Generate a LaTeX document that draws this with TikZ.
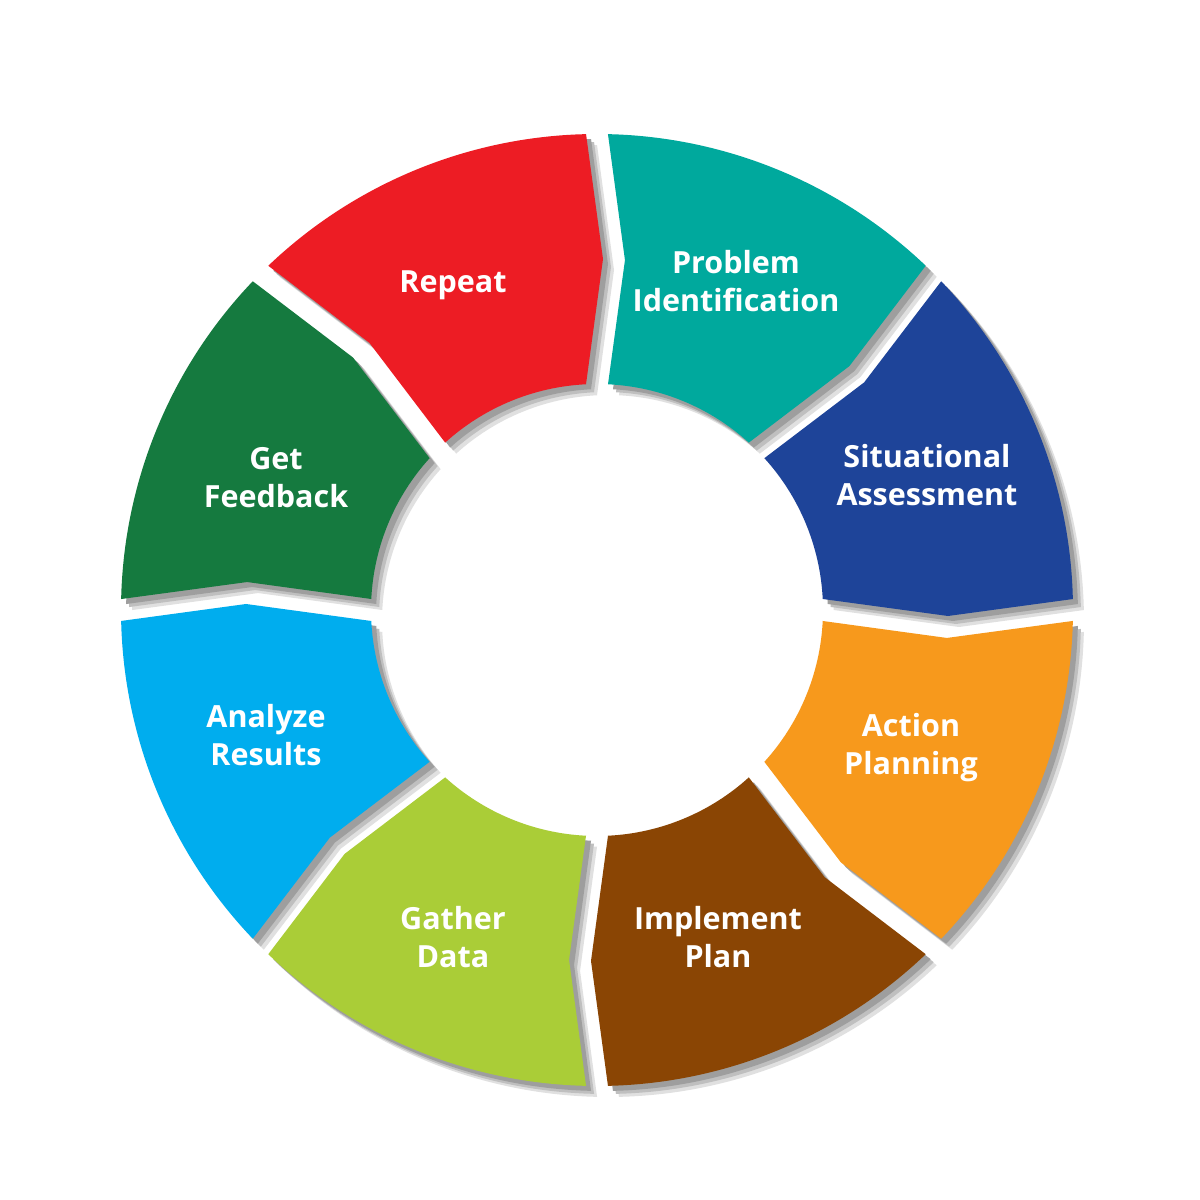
\documentclass[tikz,border=0pt]{standalone}
\usepackage{fontspec}
\setmainfont{Open Sans}
\definecolor{cRed}{HTML}{ED1C24}
\definecolor{cTeal}{HTML}{00A99D}
\definecolor{cNavy}{HTML}{1E4499}
\definecolor{cOrange}{HTML}{F7991C}
\definecolor{cBrown}{HTML}{8A4504}
\definecolor{cLime}{HTML}{AACD37}
\definecolor{cSky}{HTML}{00ADEE}
\definecolor{cGreen}{HTML}{157A3F}
\tikzset{
  seglabel/.style={text=white, font=\bfseries\fontsize{30.5}{38}\selectfont, align=center},
}
\newcommand{\segpath}{%
  (\tL+1.32:476) -- (\tL-0.98:351) -- (\tL+2.79:226)
  arc[start angle=\tL+2.79, end angle=\tT-2.79, radius=226]
  -- (\tT-4.57:351) -- (\tT-1.32:476)
  arc[start angle=\tT-1.32, end angle=\tL+1.32, radius=476] -- cycle}
\begin{document}
\begin{tikzpicture}[x=1pt,y=1pt]
\useasboundingbox (0,0) rectangle (1200,1200);
\fill[white] (0,0) rectangle (1200,1200);
\begin{scope}[shift={(597,590)}]
  % shadows
  \foreach \a in {112.5,67.5,22.5,-22.5,-67.5,-112.5,-157.5,157.5}{
    \pgfmathsetmacro{\tL}{\a-22.5}
    \pgfmathsetmacro{\tT}{\a+22.5}
    \fill[black!12, shift={(11,-11)}] \segpath;
    \fill[black!25, shift={(8,-8)}] \segpath;
    \fill[black!38, shift={(5,-5)}] \segpath;
  }
  % segments
  \foreach \a/\c in {112.5/cRed,67.5/cTeal,22.5/cNavy,-22.5/cOrange,-67.5/cBrown,-112.5/cLime,-157.5/cSky,157.5/cGreen}{
    \pgfmathsetmacro{\tL}{\a-22.5}
    \pgfmathsetmacro{\tT}{\a+22.5}
    \fill[\c] \segpath;
  }
\end{scope}
\node[seglabel] (repeat) at (453,915) {Repeat};
\node[seglabel] (probid) at (736,919) {Problem\\Identification};
\node[seglabel] (situ) at (927,725) {Situational\\Assessment};
\node[seglabel] (action) at (911,452) {Action\\Planning};
\node[seglabel] (implement) at (718,263) {Implement\\Plan};
\node[seglabel] (gather) at (453,263) {Gather\\Data};
\node[seglabel] (analyze) at (266,465) {Analyze\\Results};
\node[seglabel] (feedback) at (276,722) {Get\\Feedback};
\end{tikzpicture}
\end{document}
